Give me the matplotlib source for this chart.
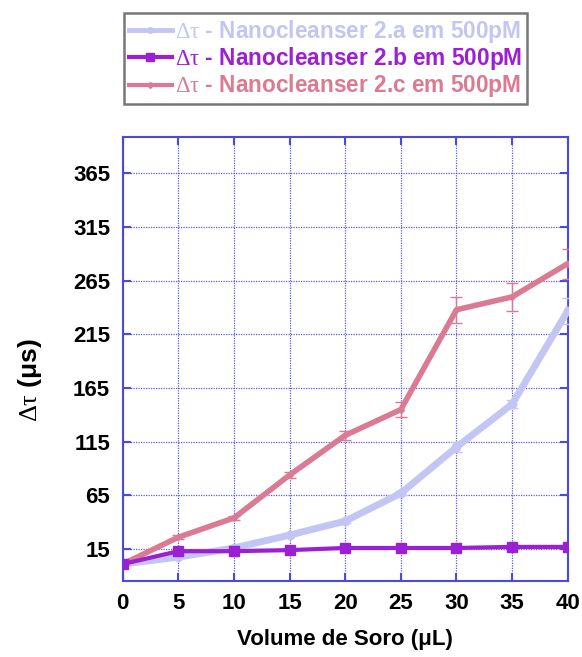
import matplotlib
matplotlib.use("Agg")
import matplotlib.pyplot as plt
from matplotlib.lines import Line2D

plt.rcParams['font.family'] = ['Liberation Sans', 'DejaVu Sans']
plt.rcParams['mathtext.fontset'] = 'custom'
plt.rcParams['mathtext.rm'] = 'Liberation Serif'
plt.rcParams['mathtext.it'] = 'Liberation Serif'

volume = [0, 5, 10, 15, 20, 25, 30, 35, 40]
dt_a = [1, 7.5, 16, 28, 41, 67, 110, 150, 237]
err_a = [0, 1, 1, 1, 2, 2, 5, 4, 12]
dt_b = [1, 13, 13, 14, 16, 16, 16, 17, 17]
dt_c = [1, 26, 44, 84, 121, 145, 238, 250, 281]
err_c = [0, 2, 2, 3, 4, 7, 12, 13, 14]
xticks = [0, 5, 10, 15, 20, 25, 30, 35, 40]
yticks = [15, 65, 115, 165, 215, 265, 315, 365]
labels = [r'$\mathrm{\Delta\tau}$ - Nanocleanser 2.a em 500pM',
          r'$\mathrm{\Delta\tau}$ - Nanocleanser 2.b em 500pM',
          r'$\mathrm{\Delta\tau}$ - Nanocleanser 2.c em 500pM']

col_a = '#c3c6f5'
col_b = '#9b1fd3'
col_c = '#db7a92'
spine_col = '#4a4ae0'

fig = plt.figure(figsize=(5.82, 6.57), dpi=100)
ax = fig.add_axes([122.7/582, 1-580.7/657, (567.7-122.7)/582, (580.7-137)/657])

ax.errorbar(volume, dt_a, yerr=err_a, color=col_a, lw=5, marker='o', ms=6,
            elinewidth=1, capsize=4, capthick=1, zorder=3)
ax.plot(volume, dt_b, color=col_b, lw=3, marker='s', ms=7.5, zorder=4)
ax.errorbar(volume, dt_c, yerr=err_c, color=col_c, lw=4, marker='D', ms=3,
            elinewidth=1, capsize=4, capthick=1, zorder=3)

ax.set_xlim(0, 40)
ax.set_ylim(-14.5, 399)
ax.set_xticks(xticks)
ax.set_yticks(yticks)
ax.grid(True, color=spine_col, ls=(0, (1, 1)), lw=0.9, alpha=0.9)
ax.set_axisbelow(True)
for s in ax.spines.values():
    s.set_color(spine_col)
    s.set_linewidth(1.5)
ax.tick_params(direction='in', length=6, width=1.5, color=spine_col,
               top=True, right=True, labelsize=16, pad=9)
for lab in ax.get_xticklabels() + ax.get_yticklabels():
    lab.set_fontweight('bold')

fig.text(0.5 * (122.7 + 567.7) / 582, 1 - 640/657, 'Volume de Soro (μL)',
         fontsize=16, fontweight='bold', ha='center', va='center')
fig.text(30/582, 1 - 380/657, r'$\mathrm{\Delta\tau}$ (μs)', fontsize=19,
         fontweight='bold', rotation=90, ha='center', va='center')

handles = [Line2D([], [], color=col_a, lw=3.5, marker='o', ms=4),
           Line2D([], [], color=col_b, lw=3, marker='s', ms=6),
           Line2D([], [], color=col_c, lw=3, marker='D', ms=3)]
leg = fig.legend(handles, labels, loc='upper left',
                 bbox_to_anchor=(124/582, 1-13/657), frameon=True, fancybox=False,
                 prop={'size': 16.3, 'weight': 'bold'}, handlelength=1.9,
                 handletextpad=0.15, labelspacing=0.02, borderpad=0.2,
                 borderaxespad=0)
leg.get_frame().set_edgecolor('#555555')
leg.get_frame().set_linewidth(1.8)
for t, c in zip(leg.get_texts(), [col_a, col_b, col_c]):
    t.set_color(c)

fig.savefig('out.png', dpi=100)
